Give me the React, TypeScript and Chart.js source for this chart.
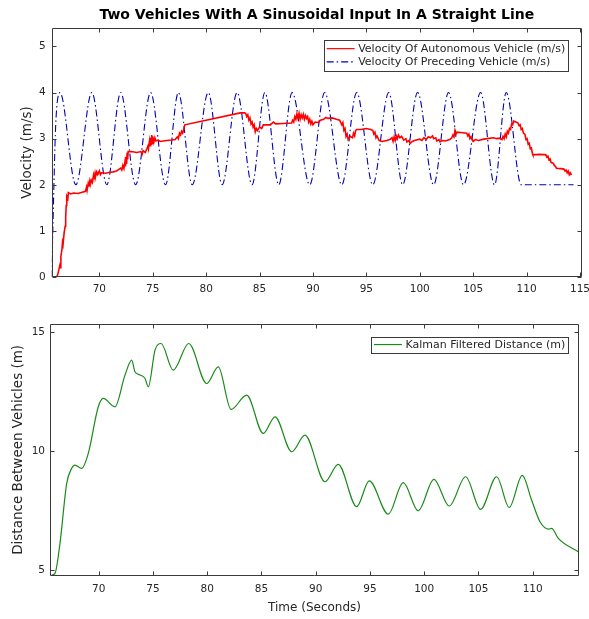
import React, { useEffect, useRef } from "react";
import { Chart, registerables } from "chart.js";

Chart.register(...registerables);

// ---------- DATA ----------
const chartTitle = "Two Vehicles With A Sinusoidal Input In A Straight Line";
const topYLabel = "Velocity (m/s)";
const bottomYLabel = "Distance Between Vehicles (m)";
const xLabel = "Time (Seconds)";

const autoLabel = "Velocity Of Autonomous Vehicle (m/s)";
const precLabel = "Velocity Of Preceding Vehicle (m/s)";
const kalmanLabel = "Kalman Filtered Distance (m)";

// Autonomous vehicle velocity (red): [time s, velocity m/s]
const autoVelocity: [number, number][] = [
  [66.0, 0], [66.1, 0.05], [66.2, 0.15], [66.3, 0.25], [66.35, 0.2], [66.4, 0.45], [66.5, 0.6], [66.55, 0.75], [66.6, 0.7],
  [66.7, 0.95], [66.8, 1.1], [66.85, 1.3], [66.9, 1.55], [66.95, 1.75], [67.05, 1.7], [67.1, 1.83],
  [67.3, 1.8], [67.6, 1.82], [68.0, 1.81], [68.4, 1.84], [68.7, 1.86],
  [68.8, 1.95], [68.85, 1.88], [68.95, 2.02], [69.0, 1.96], [69.1, 2.08], [69.15, 2.0], [69.25, 2.1], [69.35, 2.05],
  [69.45, 2.2], [69.5, 2.12], [69.6, 2.25], [69.65, 2.18], [69.75, 2.28], [69.85, 2.22], [70.0, 2.3], [70.1, 2.22], [70.2, 2.26],
  [70.6, 2.25], [71.0, 2.27], [71.3, 2.28], [71.6, 2.3], [71.8, 2.33], [72.0, 2.36], [72.1, 2.32], [72.2, 2.42], [72.3, 2.35],
  [72.4, 2.5], [72.45, 2.4], [72.5, 2.6], [72.55, 2.45], [72.6, 2.7], [72.65, 2.55], [72.7, 2.72],
  [73.0, 2.72], [73.5, 2.7], [73.9, 2.72], [74.0, 2.66], [74.1, 2.74], [74.3, 2.7], [74.45, 2.78], [74.55, 2.84], [74.6, 2.78],
  [74.7, 2.95], [74.75, 2.85], [74.8, 3.02], [74.85, 2.88], [74.9, 3.08], [74.95, 2.9], [75.0, 3.05], [75.1, 2.92], [75.2, 3.02],
  [75.3, 2.95], [75.5, 2.97], [75.7, 2.94],
  [76.3, 2.96], [76.8, 2.97], [77.1, 2.98], [77.3, 3.04], [77.4, 3.0], [77.5, 3.12], [77.6, 3.08], [77.7, 3.16], [77.8, 3.12],
  [77.9, 3.2], [78.0, 3.3],
  [83.2, 3.56], [83.6, 3.56],
  [83.7, 3.55], [83.8, 3.48], [83.9, 3.52], [84.0, 3.4], [84.1, 3.45], [84.2, 3.32], [84.3, 3.36], [84.4, 3.25], [84.5, 3.3],
  [84.6, 3.15], [84.7, 3.22], [84.8, 3.18], [85.0, 3.25], [85.2, 3.22], [85.35, 3.3], [86.0, 3.3], [86.3, 3.36], [86.5, 3.32],
  [87.2, 3.33], [88.0, 3.34],
  [88.1, 3.4], [88.2, 3.36], [88.3, 3.48], [88.4, 3.42], [88.5, 3.54], [88.6, 3.44], [88.7, 3.55], [88.8, 3.42], [88.9, 3.52],
  [89.0, 3.45], [89.1, 3.53], [89.2, 3.42], [89.3, 3.5], [89.4, 3.44], [89.5, 3.48], [89.6, 3.36], [89.7, 3.42], [89.8, 3.32],
  [89.9, 3.38], [90.0, 3.3], [90.2, 3.36], [90.5, 3.35], [90.7, 3.4], [91.0, 3.42], [91.2, 3.46], [91.4, 3.44], [91.8, 3.45],
  [92.2, 3.42], [92.5, 3.4],
  [92.7, 3.3], [92.8, 3.35], [92.9, 3.18], [93.0, 3.22], [93.1, 3.05], [93.2, 3.1], [93.3, 2.98], [93.5, 3.05], [93.7, 3.02],
  [93.8, 3.12], [93.9, 3.06], [94.0, 3.18], [94.1, 3.2], [94.5, 3.2], [95.0, 3.22], [95.4, 3.2], [95.6, 3.18], [95.7, 3.1],
  [95.8, 3.14], [95.9, 3.02], [96.0, 3.06], [96.2, 2.96], [96.5, 2.94], [96.9, 2.96], [97.2, 2.98], [97.4, 3.02], [97.5, 2.94],
  [97.6, 3.04], [97.7, 2.96], [97.8, 3.06], [97.9, 3.0], [98.0, 3.08], [98.15, 3.02], [98.3, 3.05], [98.5, 2.97], [98.7, 3.0],
  [98.8, 2.93], [99.0, 2.96], [99.1, 2.9], [99.3, 2.94], [99.5, 2.96], [100.0, 2.99], [100.2, 2.96], [100.4, 3.02], [100.6, 2.98],
  [100.8, 3.04], [101.0, 3.02], [101.2, 3.06], [101.3, 3.0], [101.5, 3.02], [101.6, 2.95], [101.8, 2.98], [101.9, 2.93],
  [102.1, 2.96], [102.4, 2.95], [102.8, 2.98], [103.0, 3.02], [103.1, 3.08], [103.2, 3.04], [103.3, 3.18], [103.4, 3.1],
  [103.5, 3.14], [104.0, 3.13], [104.4, 3.12], [104.5, 3.06], [104.6, 3.1], [104.7, 3.0], [104.8, 3.04], [105.0, 2.94],
  [105.2, 2.98], [105.5, 2.96], [106.0, 2.99], [106.3, 3.0], [106.9, 3.02], [107.2, 3.0], [107.5, 3.01], [107.7, 2.98],
  [107.8, 3.05], [107.9, 3.0], [108.0, 3.1], [108.1, 3.04], [108.2, 3.16], [108.3, 3.12], [108.4, 3.22], [108.5, 3.2],
  [108.6, 3.32], [108.7, 3.3], [108.8, 3.38], [109.0, 3.36], [109.2, 3.34], [109.3, 3.28], [109.4, 3.3], [109.5, 3.2],
  [109.6, 3.22], [109.7, 3.12], [109.85, 3.09], [109.95, 2.98], [110.05, 3.0], [110.15, 2.88], [110.25, 2.9], [110.35, 2.78],
  [110.45, 2.8], [110.55, 2.68], [110.6, 2.65], [111.2, 2.66], [111.8, 2.65], [111.9, 2.6], [112.0, 2.62], [112.1, 2.54],
  [112.2, 2.56], [112.3, 2.48], [112.5, 2.47], [112.6, 2.42], [112.7, 2.4], [112.8, 2.36], [113.2, 2.35], [113.5, 2.34],
  [113.6, 2.3], [113.7, 2.32], [113.8, 2.26], [113.9, 2.3], [114.0, 2.22], [114.1, 2.26], [114.2, 2.21],
];

// Preceding vehicle velocity (blue) – turning points of the oscillation
const precTime = [
  65.54, 65.75, 65.88, 66.02, 66.32, 67.8, 69.3, 70.7, 72.0, 73.4, 74.8, 76.2, 77.4, 78.7, 80.2, 81.5, 82.9, 84.3, 85.5, 86.8,
  88.05, 89.7, 91.1, 92.7, 94.1, 95.6, 97.1, 98.4, 99.8, 101.3, 102.7, 104.1, 105.7, 107.0, 108.1, 109.5, 114.4,
];
const precVel = [
  0, 2, 3.1, 3.7, 4, 2, 4, 2, 4, 2, 4, 2, 4, 2, 4, 2, 4, 2, 4, 2,
  4, 2, 4, 2, 4, 2, 4, 2, 4, 2, 4, 2, 4, 2, 4, 2, 2,
];

// Kalman filtered distance (green)
const kalTime = [
  65.67, 65.97, 66.43, 67.05, 67.5, 67.8, 68.43, 69.04, 69.96, 70.42, 71.5, 72.42, 73.04, 73.34, 73.8, 74.27, 74.57, 75.19, 75.75, 76.87,
  78.3, 79.95, 81.02, 82.2, 83.64, 85.17, 86.25, 87.79, 89.01, 90.86, 92.08, 93.78, 94.94, 96.69, 98.07, 99.45, 100.9, 102.31, 103.82, 105.2,
  106.68, 107.84, 109.04, 109.9, 110.67, 111.5, 111.75, 112.36, 114.27,
];
const kalDist = [
  4.79, 4.86, 6.12, 8.64, 9.27, 9.41, 9.27, 9.9, 11.86, 12.21, 11.86, 13.19, 13.82, 13.33, 13.2, 13.05, 12.7, 14.24, 14.52, 13.4,
  14.52, 12.84, 13.54, 11.75, 12.35, 10.74, 11.44, 9.97, 10.67, 8.71, 9.44, 7.66, 8.75, 7.35, 8.67, 7.49, 8.81, 7.69, 8.92, 7.55,
  8.92, 7.63, 8.98, 7.94, 7.03, 6.72, 6.75, 6.33, 5.75,
];

const topXTicks = { min: 65.54, max: 115.19, step: 5 };
const topYTicks = { min: 0, max: 5.4, step: 1 };
const botXTicks = { min: 65.51, max: 114.27, step: 5 };
const botYTicks = { min: 4.76, max: 15.34, step: 5 };

// ---------- STYLE ----------
const FONT = "'DejaVu Sans', sans-serif";
const AXIS = "#262626";
const BOX = "#3a3a3a";

const toXY = (xs: number[], ys: number[]) => xs.map((x, i) => ({ x, y: ys[i] }));
const pairsToXY = (p: [number, number][]) => p.map(([x, y]) => ({ x, y }));

const boxTicksPlugin = {
  id: "boxTicks",
  afterDraw(chart: any) {
    const { ctx, chartArea: a } = chart;
    const xs = chart.scales.x;
    const ys = chart.scales.y;
    const L = Math.round(a.left) + 0.5;
    const R = Math.round(a.right) - 0.5;
    const T = Math.round(a.top) + 0.5;
    const B = Math.round(a.bottom) - 0.5;
    ctx.save();
    ctx.strokeStyle = BOX;
    ctx.lineWidth = 1;
    ctx.beginPath();
    ctx.rect(L, T, R - L, B - T);
    const tl = 4;
    xs.ticks.forEach((t: any) => {
      const px = Math.round(xs.getPixelForValue(t.value)) + 0.5;
      ctx.moveTo(px, B);
      ctx.lineTo(px, B - tl);
      ctx.moveTo(px, T);
      ctx.lineTo(px, T + tl);
    });
    ys.ticks.forEach((t: any) => {
      const py = Math.round(ys.getPixelForValue(t.value)) + 0.5;
      ctx.moveTo(L, py);
      ctx.lineTo(L + tl, py);
      ctx.moveTo(R, py);
      ctx.lineTo(R - tl, py);
    });
    ctx.stroke();
    ctx.restore();
  },
};

const boxLegendPlugin = {
  id: "boxLegend",
  afterDraw(chart: any, _args: any, opts: any) {
    const { ctx, chartArea: a } = chart;
    const ds = chart.data.datasets;
    ctx.save();
    ctx.font = `11px ${FONT}`;
    const textW = Math.max(...ds.map((d: any) => ctx.measureText(d.label).width));
    const padL = 2.5, sample = 28, gap = 3.5, padR = 3, rowH = 13.3;
    const w = padL + sample + gap + textW + padR;
    const h = ds.length * rowH + opts.padV * 2;
    const x0 = a.right - opts.right - w;
    const y0 = a.top + opts.top;
    ctx.fillStyle = "#ffffff";
    ctx.fillRect(x0, y0, w, h);
    ctx.strokeStyle = BOX;
    ctx.lineWidth = 1;
    ctx.strokeRect(Math.round(x0) + 0.5, Math.round(y0) + 0.5, Math.round(w), Math.round(h));
    ds.forEach((d: any, i: number) => {
      const cy = y0 + opts.padV + rowH * i + rowH / 2;
      ctx.beginPath();
      ctx.strokeStyle = d.borderColor;
      ctx.lineWidth = 1.2;
      ctx.setLineDash(d.borderDash || []);
      ctx.moveTo(x0 + padL, cy);
      ctx.lineTo(x0 + padL + sample, cy);
      ctx.stroke();
      ctx.setLineDash([]);
      ctx.fillStyle = AXIS;
      ctx.textBaseline = "middle";
      ctx.textAlign = "left";
      ctx.fillText(d.label, x0 + padL + sample + gap, cy + 0.5);
    });
    ctx.restore();
  },
};

function makeScales(o: {
  xr: { min: number; max: number; step: number };
  yr: { min: number; max: number; step: number };
  yWidth: number;
  xHeight: number;
  yTitle: string;
  yTitlePad: number;
  yTickPad: number;
  xTickPad: number;
  xTitle?: string;
}) {
  return {
    x: {
      type: "linear",
      min: o.xr.min,
      max: o.xr.max,
      grid: { display: false, drawTicks: false },
      border: { display: false },
      ticks: {
        stepSize: o.xr.step,
        includeBounds: false,
        color: AXIS,
        font: { family: FONT, size: 10.5 },
        padding: o.xTickPad,
        maxRotation: 0,
        autoSkip: false,
        callback: (v: any) => String(v),
      },
      title: o.xTitle
        ? { display: true, text: o.xTitle, color: AXIS, font: { family: FONT, size: 12 }, padding: { top: 0, bottom: 3.5 } }
        : { display: false },
      afterFit: (s: any) => {
        s.height = o.xHeight;
        s.paddingLeft = 0;
        s.paddingRight = 0;
      },
    },
    y: {
      type: "linear",
      min: o.yr.min,
      max: o.yr.max,
      grid: { display: false, drawTicks: false },
      border: { display: false },
      ticks: {
        stepSize: o.yr.step,
        includeBounds: false,
        color: AXIS,
        font: { family: FONT, size: 10.5 },
        padding: o.yTickPad,
        callback: (v: any) => String(v),
      },
      title: {
        display: true,
        text: o.yTitle,
        color: AXIS,
        font: { family: FONT, size: 13.5 },
        padding: { top: o.yTitlePad, bottom: 0 },
      },
      afterFit: (s: any) => {
        s.width = o.yWidth;
        s.paddingTop = 0;
        s.paddingBottom = 0;
      },
    },
  };
}

export default function App() {
  const topRef = useRef<HTMLCanvasElement>(null);
  const botRef = useRef<HTMLCanvasElement>(null);

  useEffect(() => {
    const top = new Chart(topRef.current as HTMLCanvasElement, {
      type: "line",
      data: {
        datasets: [
          {
            label: autoLabel,
            data: pairsToXY(autoVelocity),
            borderColor: "#ff0000",
            borderWidth: 1.6,
            pointRadius: 0,
            tension: 0,
            fill: false,
          },
          {
            label: precLabel,
            data: toXY(precTime, precVel),
            borderColor: "#0000b4",
            borderWidth: 1.1,
            borderDash: [7, 3, 1.5, 3],
            pointRadius: 0,
            cubicInterpolationMode: "monotone",
            fill: false,
          },
        ],
      },
      options: {
        responsive: false,
        animation: false,
        devicePixelRatio: 1,
        layout: { padding: { top: 0, right: 7, bottom: 0, left: 0 } },
        plugins: {
          legend: { display: false },
          tooltip: { enabled: false },
          title: {
            display: true,
            fullSize: false,
            text: chartTitle,
            color: "#000000",
            font: { family: FONT, size: 14, weight: "bold" },
            padding: { top: 7, bottom: 4.2 },
          },
          boxLegend: { right: 13.7, top: 12, padV: 2 },
        } as any,
        scales: makeScales({
          xr: topXTicks,
          yr: topYTicks,
          yWidth: 51.7,
          xHeight: 23,
          yTitle: topYLabel,
          yTitlePad: 19,
          yTickPad: 6,
          xTickPad: 6,
        }) as any,
      },
      plugins: [boxTicksPlugin, boxLegendPlugin],
    } as any);

    const bot = new Chart(botRef.current as HTMLCanvasElement, {
      type: "line",
      data: {
        datasets: [
          {
            label: kalmanLabel,
            data: toXY(kalTime, kalDist),
            borderColor: "#1a8a1a",
            borderWidth: 1.2,
            pointRadius: 0,
            cubicInterpolationMode: "monotone",
            fill: false,
          },
        ],
      },
      options: {
        responsive: false,
        animation: false,
        devicePixelRatio: 1,
        layout: { padding: { top: 24, right: 10, bottom: 0, left: 0 } },
        plugins: {
          legend: { display: false },
          tooltip: { enabled: false },
          boxLegend: { right: 10.7, top: 12.7, padV: 1.2 },
        } as any,
        scales: makeScales({
          xr: botXTicks,
          yr: botYTicks,
          yWidth: 50,
          xHeight: 43.3,
          yTitle: bottomYLabel,
          yTitlePad: 10,
          yTickPad: 5,
          xTickPad: 7,
          xTitle: xLabel,
        }) as any,
      },
      plugins: [boxTicksPlugin, boxLegendPlugin],
    } as any);

    return () => {
      top.destroy();
      bot.destroy();
    };
  }, []);

  return (
    <div style={{ position: "fixed", left: 0, top: 0, width: 589, height: 619, background: "#ffffff" }}>
      <canvas ref={topRef} width={589} height={300} style={{ position: "absolute", left: 0, top: 0 }} />
      <canvas ref={botRef} width={589} height={319} style={{ position: "absolute", left: 0, top: 300 }} />
    </div>
  );
}
